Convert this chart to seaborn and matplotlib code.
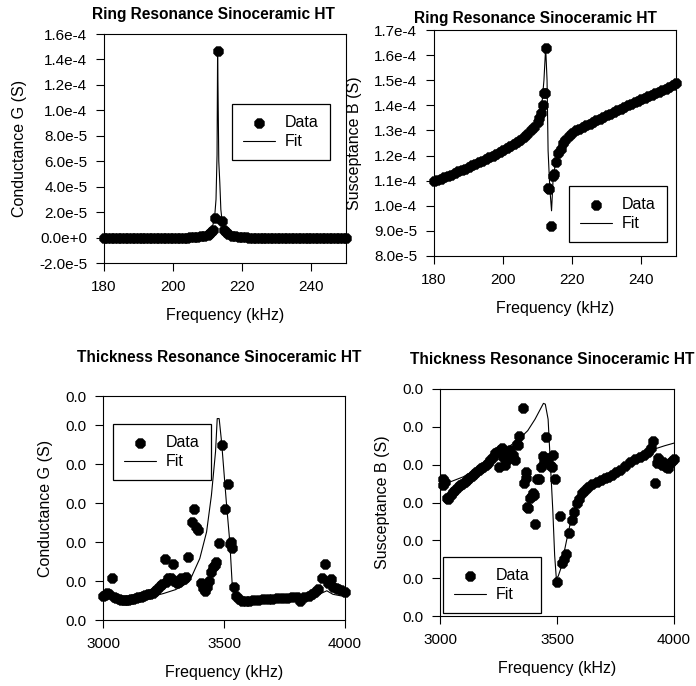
import matplotlib
matplotlib.use("Agg")
import numpy as np
import seaborn as sns
import matplotlib.pyplot as plt
from matplotlib.ticker import FuncFormatter, FormatStrFormatter

# ---- ring resonance, conductance G (values in 1e-5 S) ----
ring_g_freq = [180, 181, 182, 183, 184, 185, 186, 187, 188, 189, 190, 191, 192, 193, 194, 195,
               196, 197, 198, 199, 200, 201, 202, 203, 204, 205, 206, 207, 208, 209, 210, 210.5,
               211, 211.5, 212.07, 212.86, 214.0, 214.6, 215.2, 216, 217, 218, 219, 220, 221, 222,
               223, 224, 225, 226, 227, 228, 229, 230, 231, 232, 233, 234, 235, 236, 237, 238, 239,
               240, 241, 242, 243, 244, 245, 246, 247, 248, 249, 250]
ring_g = [0.0, 0.0, 0.0, 0.0, 0.0, 0.0, 0.0, 0.0, 0.0, 0.0, 0.0, 0.0, 0.0, 0.0, 0.0, 0.0,
          0.0, 0.0, 0.0, 0.0, 0.0, 0.0, 0.0, 0.0, 0.0, 0.02, 0.05, 0.05, 0.1, 0.15, 0.2, 0.3,
          0.4, 0.6, 1.54, 14.7, 1.27, 0.6, 0.4, 0.25, 0.15, 0.1, 0.08, 0.05, 0.02, 0.0,
          0.0, 0.0, 0.0, 0.0, 0.0, 0.0, 0.0, 0.0, 0.0, 0.0, 0.0, 0.0, 0.0, 0.0, 0.0, 0.0, 0.0,
          0.0, 0.0, 0.0, 0.0, 0.0, 0.0, 0.0, 0.0, 0.0, 0.0, 0.0]
ring_g_fit_freq = [180, 185, 190, 195, 200, 204, 207, 209, 210, 211, 211.5, 212.0, 212.4, 212.7,
                   212.86, 213.0, 213.2, 213.5, 213.8, 214.2, 214.7, 215.3, 216, 217, 219, 222,
                   226, 232, 240, 250]
ring_g_fit = [0.02, 0.03, 0.04, 0.05, 0.08, 0.12, 0.2, 0.3, 0.4, 0.7, 1.0, 1.6, 3.0, 6.5,
              14.7, 11.2, 6.0, 4.3, 2.2, 1.2, 0.7, 0.45, 0.3, 0.2, 0.12, 0.08,
              0.05, 0.04, 0.03, 0.02]

# ---- ring resonance, susceptance B (values in 1e-4 S) ----
ring_b_freq = [180, 181, 182, 183, 184, 185, 186, 187, 188, 189, 190, 191, 192, 193, 194, 195,
               196, 197, 198, 199, 200, 201, 202, 203, 204, 205, 206, 207, 208, 209, 210, 210.5,
               211, 211.4, 211.8, 212.0, 212.3, 213.0, 213.3, 213.9, 214.4, 214.8, 215.4, 216.0,
               216.6, 217.4, 218, 219, 220, 221, 222, 223, 224, 225, 226, 227, 228, 229, 230, 231,
               232, 233, 234, 235, 236, 237, 238, 239, 240, 241, 242, 243, 244, 245, 246, 247,
               248, 249, 250]
ring_b = [1.100, 1.103, 1.108, 1.115, 1.120, 1.123, 1.130, 1.138, 1.143, 1.148, 1.155, 1.162,
          1.168, 1.175, 1.180, 1.187, 1.194, 1.200, 1.207, 1.214, 1.222, 1.230, 1.237, 1.245,
          1.254, 1.263, 1.273, 1.285, 1.300, 1.315, 1.335, 1.350, 1.370, 1.400, 1.450,
          1.450, 1.630, 1.070, 1.065, 0.920, 1.120, 1.125, 1.175, 1.210, 1.225, 1.250, 1.262,
          1.277, 1.290, 1.300, 1.307, 1.314, 1.320, 1.327, 1.334, 1.340, 1.347, 1.354, 1.360,
          1.366, 1.373, 1.380, 1.386, 1.393, 1.400, 1.406, 1.412, 1.418, 1.424, 1.430, 1.436,
          1.442, 1.448, 1.455, 1.460, 1.467, 1.473, 1.480, 1.490]
ring_b_fit_freq = [180, 185, 190, 195, 200, 203, 205, 207, 209, 210, 211, 211.8, 212.3, 212.7,
                   213.0, 213.5, 214.0, 214.5, 215.2, 216.0, 217, 218, 220, 223, 226, 230,
                   235, 240, 245, 250]
ring_b_fit = [1.100, 1.123, 1.155, 1.187, 1.222, 1.245, 1.263, 1.285, 1.315, 1.335, 1.370,
              1.500, 1.630, 1.500, 1.220, 1.070, 0.980, 1.120, 1.170, 1.210, 1.240, 1.262,
              1.290, 1.314, 1.334, 1.360, 1.393, 1.424, 1.455, 1.490]

# ---- thickness resonance, conductance G (values in 1e-3 S) ----
thick_g_freq = [3000, 3007, 3015, 3025, 3037, 3045, 3055, 3065, 3075, 3085, 3095, 3105, 3115,
                3125, 3135, 3145, 3155, 3165, 3175, 3185, 3195, 3205, 3215, 3225, 3235, 3245,
                3255, 3262, 3270, 3280, 3288, 3295, 3305, 3315, 3324, 3335, 3345, 3352, 3368,
                3377, 3386, 3392, 3404, 3414, 3422, 3430, 3440, 3448, 3455, 3462, 3469, 3479,
                3490, 3503, 3515, 3523, 3529, 3535, 3542, 3550, 3560, 3575, 3590, 3605, 3620,
                3640, 3660, 3680, 3700, 3720, 3740, 3760, 3780, 3800, 3814, 3830, 3850, 3865,
                3876, 3890, 3906, 3917, 3928, 3941, 3952, 3962, 3973, 3985, 4000]
thick_g = [0.62, 0.64, 0.70, 0.66, 1.07, 0.60, 0.56, 0.53, 0.52, 0.51, 0.52, 0.52, 0.53,
           0.55, 0.56, 0.58, 0.60, 0.62, 0.64, 0.66, 0.68, 0.70, 0.74, 0.80, 0.86, 0.92,
           1.56, 0.98, 1.08, 1.09, 1.45, 1.00, 0.95, 0.98, 1.07, 1.05, 1.10, 1.61, 2.52,
           2.85, 2.39, 2.30, 0.94, 0.81, 0.75, 0.85, 1.00, 1.24, 1.35, 1.41, 1.50, 1.97,
           4.48, 2.85, 3.48, 1.95, 2.00, 1.85, 0.85, 0.62, 0.55, 0.50, 0.50, 0.50, 0.51,
           0.52, 0.53, 0.54, 0.55, 0.56, 0.57, 0.57, 0.58, 0.58, 0.50, 0.60, 0.62, 0.66,
           0.73, 0.80, 1.09, 1.45, 0.95, 1.04, 0.85, 0.82, 0.79, 0.76, 0.73]
thick_g_fit_freq = [3000, 3050, 3100, 3150, 3200, 3250, 3300, 3340, 3366, 3400, 3428, 3448,
                    3465, 3472, 3480, 3490, 3510, 3524, 3534, 3545, 3560, 3600, 3700, 3800,
                    3860, 3900, 3925, 3950, 4000]
thick_g_fit = [0.60, 0.55, 0.52, 0.55, 0.60, 0.68, 0.78, 0.92, 1.11, 1.58, 2.26, 3.20,
               4.32, 5.17, 5.17, 4.57, 3.00, 2.00, 0.90, 0.62, 0.52, 0.50, 0.50, 0.52,
               0.56, 0.68, 0.75, 0.66, 0.60]

# ---- thickness resonance, susceptance B (values in 1e-3 S) ----
thick_b_freq = [3011, 3014, 3020, 3028, 3035, 3045, 3055, 3065, 3075, 3085, 3095, 3105, 3115,
                3125, 3135, 3145, 3155, 3165, 3175, 3185, 3195, 3205, 3215, 3225, 3235, 3242,
                3250, 3258, 3263, 3270, 3278, 3285, 3292, 3299, 3310, 3321, 3330, 3335, 3339,
                3353, 3361, 3366, 3369, 3373, 3378, 3385, 3392, 3397, 3403, 3406, 3416, 3423,
                3430, 3439, 3445, 3453, 3463, 3470, 3478, 3484, 3492, 3502, 3513, 3521, 3530,
                3538, 3553, 3563, 3573, 3584, 3595, 3605, 3620, 3634, 3650, 3670, 3690, 3705,
                3719, 3735, 3750, 3769, 3790, 3812, 3835, 3855, 3870, 3890, 3900, 3909, 3919,
                3926, 3932, 3940, 3947, 3953, 3960, 3967, 3974, 3982, 3990, 3998]
thick_b = [3.61, 3.46, 3.55, 3.11, 3.10, 3.20, 3.27, 3.33, 3.40, 3.45, 3.50, 3.55, 3.60,
           3.65, 3.70, 3.75, 3.80, 3.85, 3.90, 3.95, 4.00, 4.05, 4.12, 4.20, 4.30, 4.34,
           3.95, 4.40, 4.43, 4.20, 3.99, 4.30, 4.15, 4.39, 4.25, 4.12, 4.55, 4.52, 4.76,
           5.51, 3.51, 3.65, 3.80, 2.87, 2.85, 3.11, 3.18, 3.24, 3.20, 2.43, 3.61, 3.62,
           3.95, 4.23, 4.10, 4.74, 4.17, 4.00, 3.95, 4.26, 3.62, 0.91, 2.64, 1.39, 1.50,
           1.63, 2.20, 2.54, 2.76, 2.98, 3.10, 3.24, 3.33, 3.42, 3.48, 3.55, 3.60, 3.65,
           3.68, 3.74, 3.80, 3.86, 3.97, 4.08, 4.14, 4.19, 4.25, 4.34, 4.45, 4.63, 3.51,
           4.05, 4.17, 4.10, 4.00, 4.08, 4.00, 3.95, 3.90, 4.05, 4.10, 4.15]
thick_b_fit_freq = [3000, 3100, 3200, 3242, 3300, 3342, 3375, 3406, 3442, 3450, 3462, 3472,
                    3482, 3490, 3497, 3505, 3516, 3541, 3569, 3600, 3650, 3700, 3750, 3800,
                    3850, 3900, 3920, 3960, 4000]
thick_b_fit = [3.44, 3.68, 4.05, 4.26, 4.50, 4.70, 4.90, 5.20, 5.62, 5.60, 5.20, 4.00,
               2.80, 1.60, 1.00, 1.05, 1.25, 2.00, 2.80, 3.15, 3.45, 3.65, 3.82, 4.02,
               4.18, 4.38, 4.42, 4.50, 4.57]

ring_xticks = [180, 200, 220, 240]
thick_xticks = [3000, 3500, 4000]
ring_xlim = (180, 250)
thick_xlim = (3000, 4000)
ring_g_yticks = [v * 1e-5 for v in range(-2, 17, 2)]
ring_b_yticks = [v * 1e-5 for v in range(8, 18)]
thick_g_yticks = [v * 1e-3 for v in [0, 1, 2, 3, 4, 5, 5.75]]
thick_b_yticks = [v * 1e-3 for v in [0, 1, 2, 3, 4, 5, 6]]

ring_title = "Ring Resonance Sinoceramic HT"
thick_title = "Thickness Resonance Sinoceramic HT"

sns.set_style("ticks")
plt.rcParams['font.family'] = ['Liberation Sans', 'DejaVu Sans']
plt.rcParams['text.color'] = 'black'
plt.rcParams['axes.labelcolor'] = 'black'
plt.rcParams['xtick.color'] = 'black'
plt.rcParams['ytick.color'] = 'black'
plt.rcParams['axes.edgecolor'] = 'black'

W, H = 696, 686
fig = plt.figure(figsize=(W / 100, H / 100), dpi=100)
fig.patch.set_facecolor('white')


def add_ax(left, top, right, bottom):
    return fig.add_axes([left / W, 1 - bottom / H, (right - left) / W, (bottom - top) / H])


def sci_fmt(v, pos):
    mant, ex = f"{v:.1e}".split('e')
    ex = int(ex)
    return f"{mant}e{ex:+d}" if ex >= 0 else f"{mant}e{ex}"


def panel(ax, freq, vals, fit_freq, fit_vals, scale, xlim, xticks, yticks, ylabel, leg_xy):
    sns.scatterplot(x=np.array(freq), y=np.array(vals) * scale, ax=ax, color='black', s=66,
                    marker='8', linewidth=0, label='Data', clip_on=False, zorder=3)
    sns.lineplot(x=np.array(fit_freq), y=np.array(fit_vals) * scale, ax=ax, color='black',
                 lw=0.8, sort=False, estimator=None, label='Fit', zorder=4)
    ax.set_xlim(*xlim)
    ax.set_ylim(yticks[0], yticks[-1])
    ax.set_xticks(xticks)
    ax.set_yticks(yticks)
    ax.tick_params(axis='both', direction='out', length=6, width=0.8, pad=6,
                   labelsize=11, colors='black')
    ax.set_xlabel("Frequency (kHz)", fontsize=11.5, labelpad=10)
    ax.set_ylabel(ylabel, fontsize=11.5, labelpad=9)
    for sp in ax.spines.values():
        sp.set_visible(True)
        sp.set_color('black')
        sp.set_linewidth(0.8)
    handles, labels = ax.get_legend_handles_labels()
    order = [labels.index('Data'), labels.index('Fit')]
    leg = ax.legend([handles[i] for i in order], ['Data', 'Fit'], loc='upper left',
                    bbox_to_anchor=(leg_xy[0] / W, 1 - leg_xy[1] / H),
                    bbox_transform=fig.transFigure, borderaxespad=0, fontsize=11.5,
                    frameon=True, fancybox=False, edgecolor='black', framealpha=1,
                    handlelength=2.0, handletextpad=0.6, labelspacing=0.25,
                    borderpad=0.7, scatterpoints=1)
    leg.get_frame().set_linewidth(0.9)


ax1 = add_ax(104, 34, 346, 263)
panel(ax1, ring_g_freq, ring_g, ring_g_fit_freq, ring_g_fit, 1e-5, ring_xlim, ring_xticks,
      ring_g_yticks, "Conductance G (S)", (232, 104))
ax1.yaxis.set_major_formatter(FuncFormatter(sci_fmt))

ax2 = add_ax(434, 30, 676, 256)
panel(ax2, ring_b_freq, ring_b, ring_b_fit_freq, ring_b_fit, 1e-4, ring_xlim, ring_xticks,
      ring_b_yticks, "Susceptance B (S)", (569, 186))
ax2.yaxis.set_major_formatter(FuncFormatter(sci_fmt))

ax3 = add_ax(103, 396, 345, 620)
panel(ax3, thick_g_freq, thick_g, thick_g_fit_freq, thick_g_fit, 1e-3, thick_xlim, thick_xticks,
      thick_g_yticks, "Conductance G (S)", (113, 424))
ax3.yaxis.set_major_formatter(FormatStrFormatter('%.1f'))

ax4 = add_ax(440, 389, 674, 616)
panel(ax4, thick_b_freq, thick_b, thick_b_fit_freq, thick_b_fit, 1e-3, thick_xlim, thick_xticks,
      thick_b_yticks, "Susceptance B (S)", (443, 557))
ax4.yaxis.set_major_formatter(FormatStrFormatter('%.1f'))

# panel titles
for (cx, cy), txt in [((213, 15), ring_title), ((535, 18), ring_title),
                      ((219, 357), thick_title), ((552, 360), thick_title)]:
    fig.text(cx / W, 1 - cy / H, txt, ha='center', va='center', fontsize=11.2,
             fontweight='bold')

fig.savefig("out.png", dpi=100, facecolor='white')
